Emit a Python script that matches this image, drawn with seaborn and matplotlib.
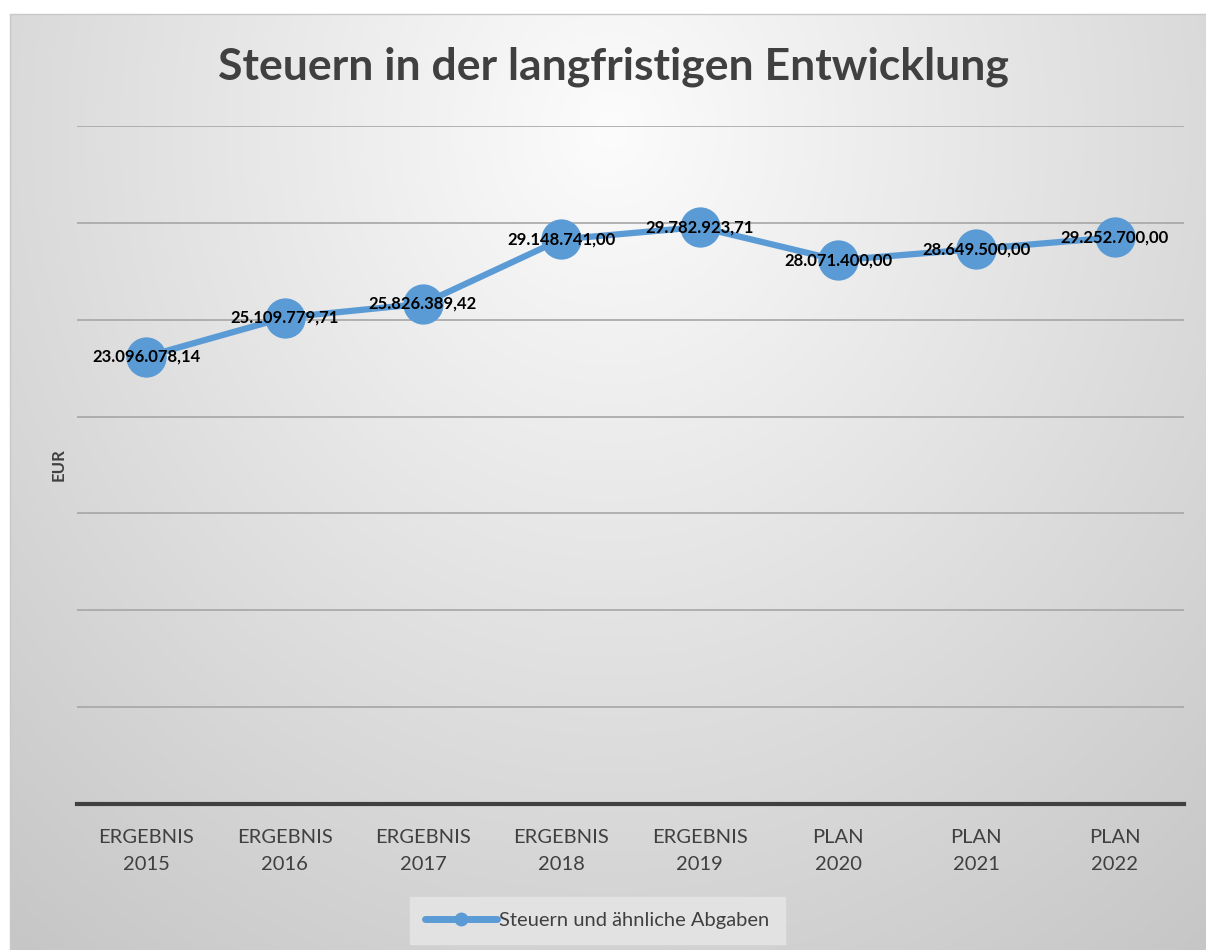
import numpy as np
import pandas as pd
import matplotlib
matplotlib.use('Agg')
import matplotlib.pyplot as plt
import seaborn as sns

# chart data
categories = ['ERGEBNIS\n2015', 'ERGEBNIS\n2016', 'ERGEBNIS\n2017', 'ERGEBNIS\n2018',
              'ERGEBNIS\n2019', 'PLAN\n2020', 'PLAN\n2021', 'PLAN\n2022']
values = [23096078.14, 25109779.71, 25826389.42, 29148741.00,
          29782923.71, 28071400.00, 28649500.00, 29252700.00]
series_name = 'Steuern und ähnliche Abgaben'

df = pd.DataFrame({'kategorie': categories, 'wert': values, 'serie': series_name})

sns.set_theme(style='white')
plt.rcParams['font.family'] = ['Lato', 'DejaVu Sans']

blue = '#5B9BD5'
W, H = 1206, 950
fig = plt.figure(figsize=(W / 100, H / 100), dpi=100)

# background: white margin + radial gradient chart area (Excel style)
bg = fig.add_axes([0, 0, 1, 1], zorder=-10)
yy, xx = np.mgrid[0:H, 0:W]
r = np.sqrt(((xx - 610) / 700.0) ** 2 + ((yy - 130) / 780.0) ** 2)
shade = np.clip(252 - 40 * r, 198, 252) / 255.0
img = np.dstack([shade, shade, shade])
img[:14, :, :] = 1.0
img[:, :10, :] = 1.0
bg.imshow(img, aspect='auto', extent=[0, W, H, 0])
bg.plot([10, 10], [14, H], color='#c8c8c8', lw=1)
bg.plot([10, W], [14, 14], color='#c8c8c8', lw=1)
bg.set_xlim(0, W)
bg.set_ylim(H, 0)
bg.axis('off')

ax = fig.add_axes([77 / W, 1 - 804 / H, (1184 - 77) / W, (804 - 126) / H])
ax.patch.set_alpha(0)

sns.lineplot(data=df, x='kategorie', y='wert', hue='serie', palette=[blue],
             marker='o', markersize=29, linewidth=4.5, markeredgewidth=0,
             sort=False, ax=ax)

ax.set_ylim(0, 35000000)
ax.set_xlim(-0.5, len(categories) - 0.5)
ax.set_yticks(np.arange(5000000, 35000001, 5000000))
ax.yaxis.grid(True, color='#a6a6a6', linewidth=1.2)
ax.set_yticklabels([])
ax.tick_params(axis='y', length=0)
ax.tick_params(axis='x', length=0, labelsize=14.5, labelcolor='#404040', pad=18)
for lbl in ax.get_xticklabels():
    lbl.set_linespacing(1.75)
for s in ['top', 'right', 'left']:
    ax.spines[s].set_visible(False)
ax.spines['bottom'].set_color('#404040')
ax.spines['bottom'].set_linewidth(3)
ax.set_xlabel('')
ax.set_ylabel('EUR', fontsize=12, fontweight='bold', color='#404040', labelpad=4)

def fmt_de(v):
    s = '{:,.2f}'.format(v)
    return s.replace(',', 'X').replace('.', ',').replace('X', '.')

for i, v in enumerate(values):
    ax.text(i, v, fmt_de(v), ha='center', va='center', fontsize=12,
            fontweight='bold', color='black', zorder=5)

fig.text(613 / W, 1 - 67 / H, 'Steuern in der langfristigen Entwicklung', fontsize=32,
         fontweight='bold', color='#404040', ha='center', va='center')

leg = ax.legend(loc='upper center', bbox_to_anchor=(0.47, -0.137), frameon=True,
                fontsize=14.5, handlelength=3.6, handletextpad=0.1,
                borderpad=0.75, borderaxespad=0, fancybox=False)
leg.get_frame().set_facecolor('#e2e2e2')
leg.get_frame().set_edgecolor('#e2e2e2')
leg.get_frame().set_alpha(1)
for h in leg.get_lines():
    h.set_markersize(10)
    h.set_linewidth(5)
for t in leg.get_texts():
    t.set_color('#404040')

fig.savefig('out.png', dpi=100)
